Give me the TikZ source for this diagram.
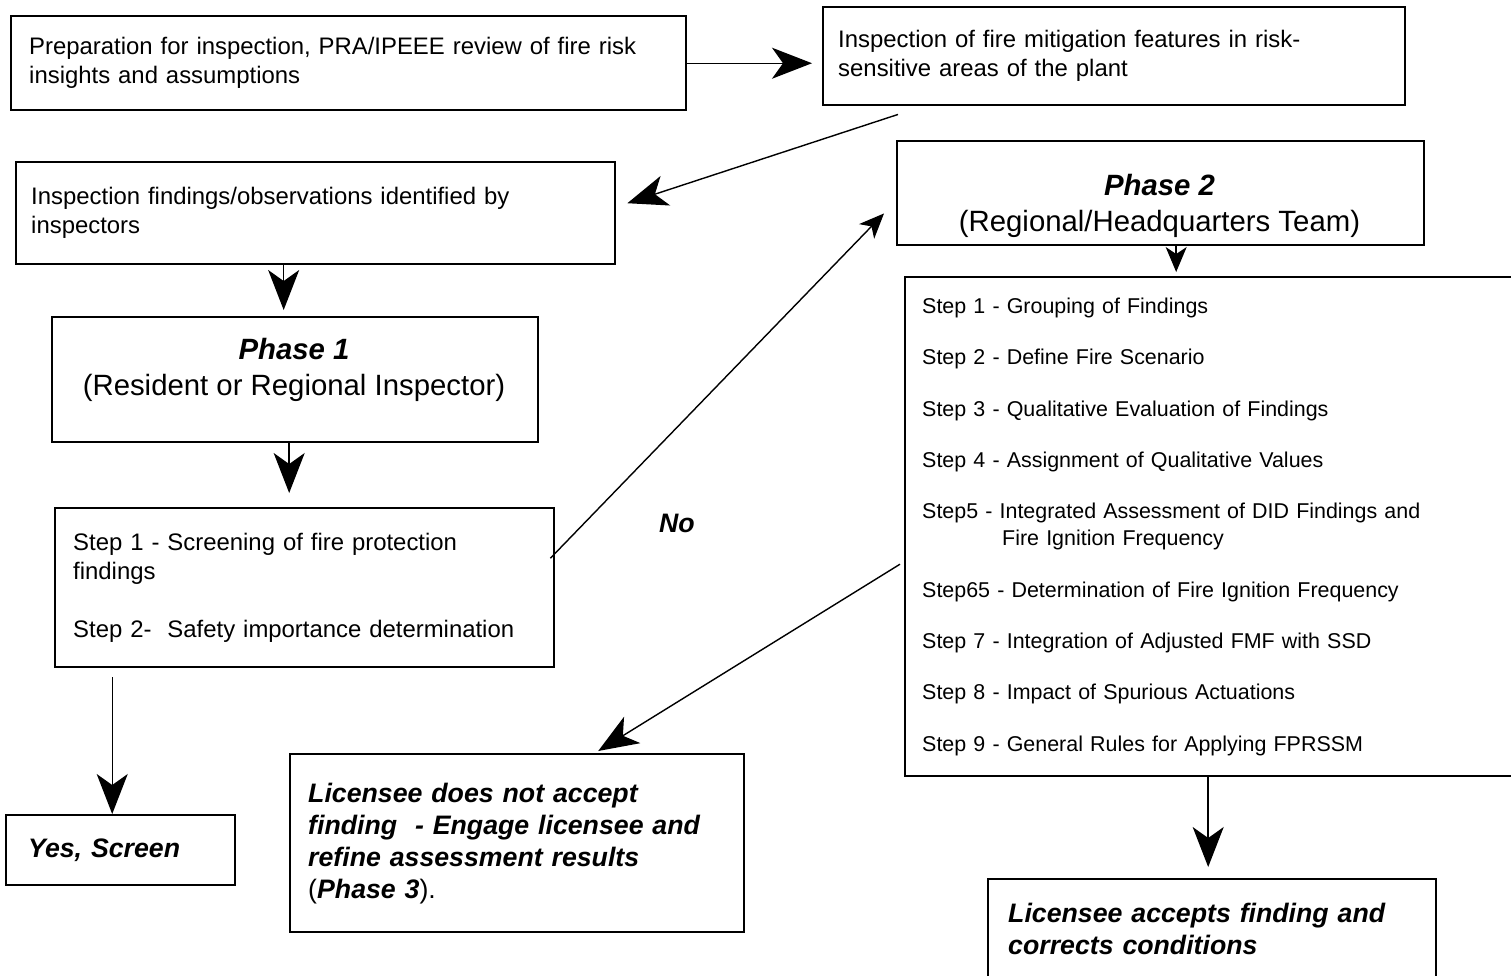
\documentclass[tikz,border=0pt]{standalone}
\usepackage{fontspec}
\setmainfont{Liberation Sans}
\usetikzlibrary{arrows.meta}

\begin{document}
\begin{tikzpicture}[x=0.02cm,y=-0.02cm,
    box/.style={draw,line width=1.4pt,anchor=north west,inner ysep=0pt,align=left},
    txt/.style={font=\fontsize{13.6}{16.5}\selectfont},
    steptxt/.style={font=\fontsize{12.2}{15.4}\selectfont},
    phasetxt/.style={font=\fontsize{16.7}{20.5}\selectfont,align=center},
    bitxt/.style={font=\fontsize{15.2}{18.2}\selectfont\bfseries\itshape},
    link/.style={line width=0.8pt,-{Stealth[length=0.8cm,width=0.62cm,inset=0.22cm]}},
    thin link/.style={line width=0.8pt,-{Stealth[length=0.5cm,width=0.42cm,inset=0.14cm]}}]
    \useasboundingbox (0,0) rectangle (1511,975);

    % Preparation, inspection and findings.
    \node[box,txt,minimum width=13.5cm,minimum height=1.88cm,inner xsep=0.36cm,
        text width=12.78cm] (prep) at (10,15)
        {Preparation for inspection, PRA/IPEEE review of fire risk\\
         insights and assumptions};
    \node[box,txt,minimum width=11.64cm,minimum height=1.96cm,inner xsep=0.3cm,
        text width=11.04cm] (sites) at (822,6)
        {Inspection of fire mitigation features in risk-\\
         sensitive areas of the plant};
    \node[box,txt,minimum width=11.98cm,minimum height=2.04cm,inner xsep=0.3cm,
        text width=11.38cm] (findings) at (15,161)
        {Inspection findings/observations identified by\\inspectors};

    % Phase 1.
    \node[box,minimum width=9.72cm,minimum height=2.5cm] (phaseone) at (51,316) {};
    \node[phasetxt] (phaseonetxt) at (294,370)
        {\textbf{\textit{Phase 1}}\\(Resident or Regional Inspector)};
    \node[box,txt,minimum width=9.98cm,minimum height=3.18cm,inner xsep=0.36cm,
        text width=9.26cm] (screening) at (54,507)
        {Step 1 - Screening of fire protection\\findings\\[0.58cm]
         Step 2-\ \ Safety importance determination};
    \node[box,bitxt,minimum width=4.58cm,minimum height=1.4cm,inner xsep=0.44cm,
        text width=3.7cm] (screened) at (5,814) {Yes, Screen};

    % Phase 2.
    \node[box,minimum width=10.54cm,minimum height=2.08cm] (phasetwo) at (896,140) {};
    \node[phasetxt] (phasetwotxt) at (1159.5,205.5)
        {\textbf{\textit{Phase 2}}\\(Regional/Headquarters Team)};
    \node[box,steptxt,minimum width=12.24cm,minimum height=9.98cm,inner xsep=0.34cm,
        text width=11.56cm] (steps) at (904,276)
        {Step 1 - Grouping of Findings\\[0.486cm]
         Step 2 - Define Fire Scenario\\[0.486cm]
         Step 3 - Qualitative Evaluation of Findings\\[0.486cm]
         Step 4 - Assignment of Qualitative Values\\[0.486cm]
         Step5 - Integrated Assessment of DID Findings and\\
         \hspace*{1.6cm}Fire Ignition Frequency\\[0.486cm]
         Step65 - Determination of Fire Ignition Frequency\\[0.486cm]
         Step 7 - Integration of Adjusted FMF with SSD\\[0.486cm]
         Step 8 - Impact of Spurious Actuations\\[0.486cm]
         Step 9 - General Rules for Applying FPRSSM};

    % Outcomes.
    \node[box,bitxt,minimum width=9.08cm,minimum height=3.56cm,inner xsep=0.36cm,
        text width=8.36cm] (reject) at (289,753)
        {Licensee does not accept\\finding\ \ - Engage licensee and\\
         refine assessment results\\{\normalfont(}Phase 3{\normalfont).}};
    \node[box,bitxt,minimum width=8.96cm,minimum height=2.0cm,inner xsep=0.4cm,
        text width=8.16cm] (accept) at (987,878)
        {Licensee accepts finding and\\corrects conditions};
    \node[bitxt] (no) at (677,523) {No};

    % Connectors.
    \draw[link,shorten >=0.2cm] (prep.east) -- (prep.east -| sites.west);
    \draw[link] ([shift={(76,8)}]sites.south west) -- ([shift={(11,-10)}]findings.east);
    \draw[link,shorten >=0.12cm] ([shift={(-32,0)}]findings.south)
        -- ([shift={(-32,0)}]findings.south |- phaseone.north);
    \draw[link,shorten >=0.28cm] ([shift={(-6,0)}]phaseone.south)
        -- ([shift={(-6,0)}]phaseone.south |- screening.north);
    \draw[link,shorten <=0.18cm] ([shift={(-8.5,0)}]screened.north |- screening.south)
        -- ([shift={(-8.5,0)}]screened.north);
    \draw[thin link] ([shift={(-5,-29.5)}]screening.east)
        -- ([shift={(-12,-33)}]phasetwo.south west);
    \draw[thin link,shorten >=0.08cm] ([shift={(15.5,0)}]phasetwo.south)
        -- ([shift={(15.5,0)}]phasetwo.south |- steps.north);
    \draw[link] ([shift={(-4,37.5)}]steps.west) -- ([shift={(81,-2)}]reject.north);
    \draw[link,shorten >=0.22cm] ([shift={(-4,0)}]accept.north |- steps.south)
        -- ([shift={(-4,0)}]accept.north);
\end{tikzpicture}
\end{document}
